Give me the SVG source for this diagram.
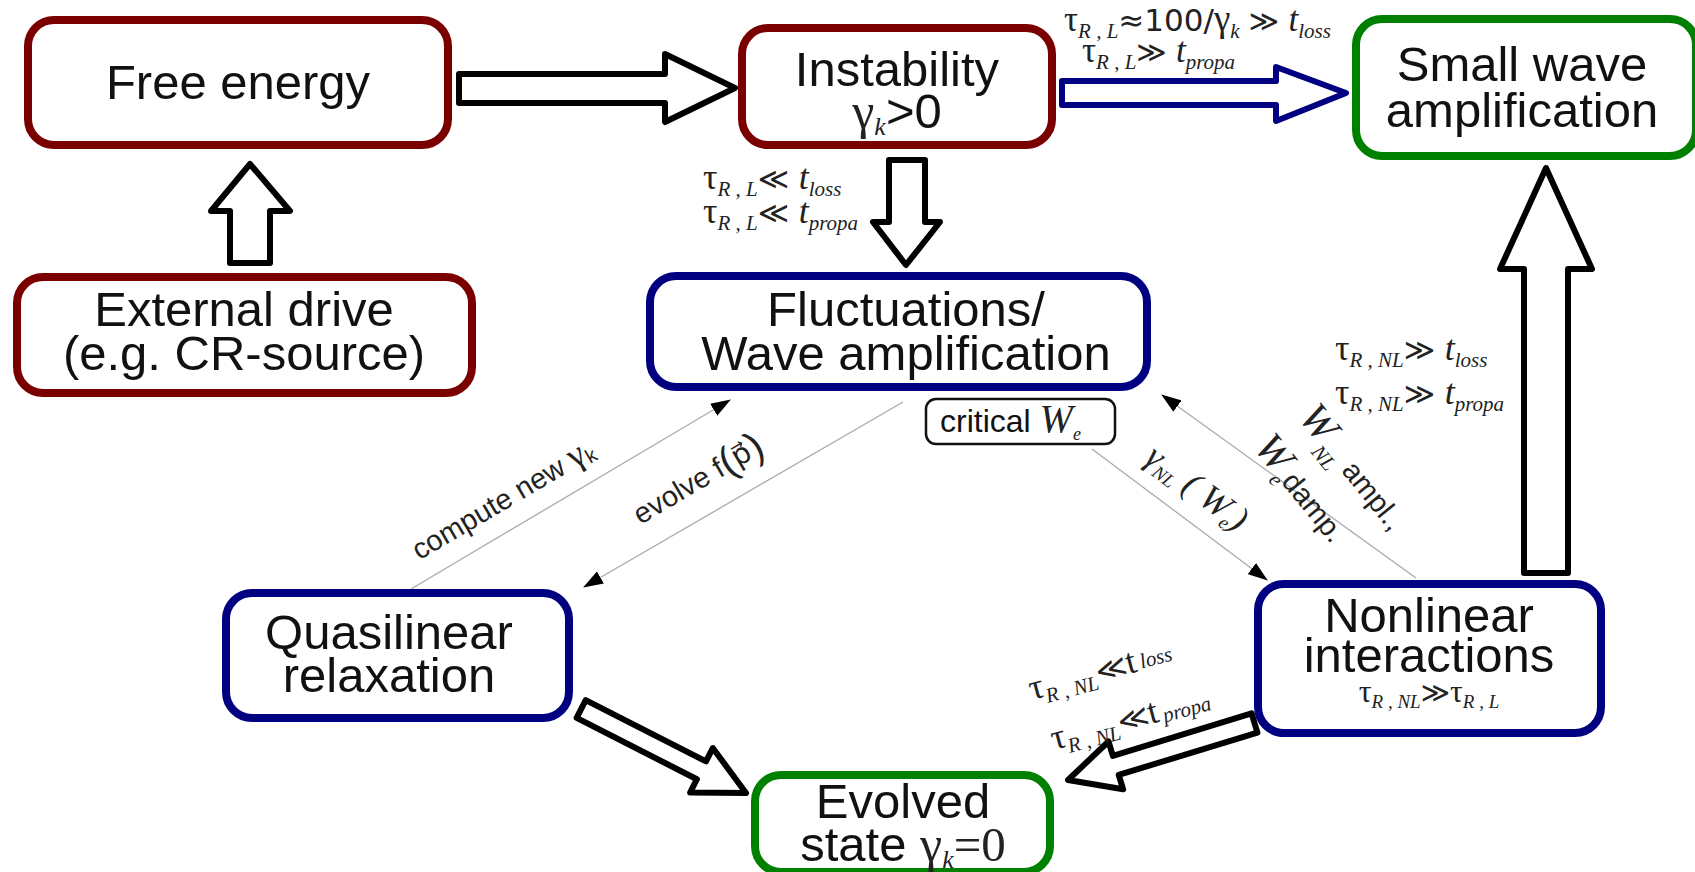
<svg xmlns="http://www.w3.org/2000/svg" width="1695" height="872" viewBox="0 0 1695 872">
<defs>
<style>
.box{fill:#fff;stroke-width:8}
.red{stroke:#7a0000}
.blue{stroke:#000080}
.green{stroke:#008000}
.t{font-family:"Liberation Sans",Arial,sans-serif;font-size:49px;fill:#111;text-anchor:middle}
.m{font-family:"Liberation Serif","DejaVu Serif",serif;fill:#222}
.i{font-style:italic}
.s{font-family:"DejaVu Sans",sans-serif}
.big{fill:#fff;stroke:#000;stroke-width:6;stroke-linejoin:round}
.thin{stroke:#aaa;stroke-width:1.3;fill:none;marker-end:url(#ah)}
.lab{font-family:"Liberation Sans",Arial,sans-serif;font-size:29px;fill:#222}
</style>
<marker id="ah" markerWidth="20" markerHeight="14" refX="19" refY="7" orient="auto" markerUnits="userSpaceOnUse">
<path d="M0,0 L20,7 L0,14 Z" fill="#000"/>
</marker>
</defs>

<g id="connectors">
<path class="big" d="M459,74 L665,74 L665,54 L735,88 L665,122 L665,103 L459,103 Z"/>
<path class="big" d="M230,263 L230,211 L211,211 L250,164 L290,211 L270,211 L270,263 Z"/>
<path class="big" d="M889,160 L925,160 L925,222 L940,222 L906,265 L873,222 L889,222 Z"/>
<path class="big" style="stroke:#000080" d="M1062,81 L1276,81 L1276,67 L1346,93 L1276,121 L1276,105 L1062,105 Z"/>
<path class="big" d="M1524,573 L1524,269 L1500,269 L1546,168 L1592,269 L1568,269 L1568,573 Z"/>
<path class="big" transform="translate(746,793) rotate(27)" d="M-185,-10 L-50,-10 L-50,-25 L0,0 L-50,25 L-50,10 L-185,10 Z"/>
<path class="big" transform="translate(1068,780) rotate(163)" d="M-195,-10 L-50,-10 L-50,-25 L0,0 L-50,25 L-50,10 L-195,10 Z"/>
<line class="thin" x1="411" y1="589" x2="730" y2="400"/>
<line class="thin" x1="903" y1="402" x2="584" y2="587"/>
<line class="thin" x1="1092" y1="449" x2="1267" y2="580"/>
<line class="thin" x1="1416" y1="578" x2="1162" y2="395"/>

<text class="m" x="1064" y="31" font-size="35">τ<tspan class="i" font-size="21" dy="7">R , L</tspan><tspan dy="-7" class="s" font-size="31">≈100/</tspan><tspan font-size="37">γ</tspan><tspan class="i" font-size="21" dy="7">k</tspan><tspan dy="-7" class="s" font-size="29"> ≫ </tspan><tspan class="i">t</tspan><tspan class="i" font-size="21" dy="7">loss</tspan></text>
<text class="m" x="1082" y="62" font-size="35">τ<tspan class="i" font-size="21" dy="7">R , L</tspan><tspan dy="-7" class="s" font-size="29">≫ </tspan><tspan class="i">t</tspan><tspan class="i" font-size="21" dy="7">propa</tspan></text>

<text class="m" x="703" y="189" font-size="36">τ<tspan class="i" font-size="21" dy="7">R , L</tspan><tspan dy="-7" class="s" font-size="30">≪ </tspan><tspan class="i">t</tspan><tspan class="i" font-size="21" dy="7">loss</tspan></text>
<text class="m" x="703" y="223" font-size="36">τ<tspan class="i" font-size="21" dy="7">R , L</tspan><tspan dy="-7" class="s" font-size="30">≪ </tspan><tspan class="i">t</tspan><tspan class="i" font-size="21" dy="7">propa</tspan></text>

<text class="m" x="1335" y="360" font-size="36">τ<tspan class="i" font-size="21" dy="7">R , NL</tspan><tspan dy="-7" class="s" font-size="30">≫ </tspan><tspan class="i">t</tspan><tspan class="i" font-size="21" dy="7">loss</tspan></text>
<text class="m" x="1335" y="404" font-size="36">τ<tspan class="i" font-size="21" dy="7">R , NL</tspan><tspan dy="-7" class="s" font-size="30">≫ </tspan><tspan class="i">t</tspan><tspan class="i" font-size="21" dy="7">propa</tspan></text>

<text class="m" transform="translate(1032,700) rotate(-15)" font-size="36">τ<tspan class="i" font-size="21" dy="7">R , NL</tspan><tspan dy="-7" class="s" font-size="30">≪</tspan><tspan>t</tspan><tspan class="i" font-size="21" dx="4" dy="-2">loss</tspan></text>
<text class="m" transform="translate(1054,750) rotate(-15)" font-size="36">τ<tspan class="i" font-size="21" dy="7">R , NL</tspan><tspan dy="-7" class="s" font-size="30">≪</tspan><tspan>t</tspan><tspan class="i" font-size="21" dx="4" dy="2">propa</tspan></text>

<text class="lab" transform="translate(508,508) rotate(-30.6)" text-anchor="middle">compute new <tspan class="m" font-size="36">γ</tspan><tspan font-size="20" dy="4">k</tspan></text>
<text class="lab" transform="translate(703,488) rotate(-30.6)" text-anchor="middle">evolve f<tspan font-size="40" dy="3">(</tspan><tspan class="s" dy="-3">p⃗</tspan><tspan font-size="40" dy="3">)</tspan></text>
<text class="m" transform="translate(1190,497) rotate(37)" text-anchor="middle" font-size="36"><tspan class="i">γ</tspan><tspan class="i" font-size="19" dy="6">NL</tspan><tspan dy="-6" class="i"> ( W</tspan><tspan class="i" font-size="19" dy="6">e</tspan><tspan dy="-6" class="i">)</tspan></text>
<text class="lab" font-size="33" transform="translate(1344,475) rotate(51)" text-anchor="middle"><tspan class="m i" font-size="42">W</tspan><tspan class="m i" font-size="21" dy="12">NL</tspan><tspan dy="-12"> ampl.,</tspan></text>
<text class="lab" font-size="33" transform="translate(1292,496) rotate(51)" text-anchor="middle"><tspan class="m i" font-size="42">W</tspan><tspan class="m i" font-size="21" dy="9">e</tspan><tspan dy="-9">damp.</tspan></text>
</g>

<g id="free-energy">
<rect class="box red" x="28" y="20" width="420" height="125" rx="26"/>
<text class="t" x="238" y="99">Free energy</text>
</g>
<g id="external-drive">
<rect class="box red" x="17" y="277" width="455" height="116" rx="26"/>
<text class="t" x="244" y="326">External drive</text>
<text class="t" x="244" y="370">(e.g. CR-source)</text>
</g>
<g id="instability">
<rect class="box red" x="742" y="28" width="310" height="117" rx="26"/>
<text class="t" x="897" y="86">Instability</text>
<text class="t" x="897" y="128"><tspan class="m" font-size="50">γ</tspan><tspan class="m i" font-size="26" dy="7">k</tspan><tspan dy="-7">&gt;0</tspan></text>
</g>
<g id="small-wave">
<rect class="box green" x="1356" y="19" width="340" height="137" rx="26"/>
<text class="t" x="1522" y="81">Small wave</text>
<text class="t" x="1522" y="127">amplification</text>
</g>
<g id="fluctuations">
<rect class="box blue" x="650" y="276" width="497" height="111" rx="26"/>
<text class="t" x="906" y="326">Fluctuations/</text>
<text class="t" x="906" y="370">Wave amplification</text>
</g>
<g id="critical">
<rect x="926" y="399" width="189" height="45" rx="10" fill="#fff" stroke="#111" stroke-width="2.5"/>
<text x="940" y="432" font-family="Liberation Sans,Arial,sans-serif" font-size="32" fill="#111">critical <tspan class="m i" font-size="40">W</tspan><tspan class="m i" font-size="18" dy="8">e</tspan></text>
</g>
<g id="quasilinear">
<rect class="box blue" x="226" y="593" width="343" height="125" rx="26"/>
<text class="t" x="389" y="649">Quasilinear</text>
<text class="t" x="389" y="692">relaxation</text>
</g>
<g id="nonlinear">
<rect class="box blue" x="1258" y="584" width="343" height="149" rx="26"/>
<text class="t" x="1429" y="632">Nonlinear</text>
<text class="t" x="1429" y="672">interactions</text>
<text class="m" x="1429" y="702" font-size="32" text-anchor="middle">τ<tspan class="i" font-size="19" dy="6">R , NL</tspan><tspan dy="-6" class="s" font-size="28">≫</tspan><tspan>τ</tspan><tspan class="i" font-size="19" dy="6">R , L</tspan></text>
</g>
<g id="evolved">
<rect class="box green" x="755" y="775" width="295" height="97" rx="26"/>
<text class="t" x="903" y="818">Evolved</text>
<text class="t" x="903" y="861">state <tspan class="m" font-size="50">γ</tspan><tspan class="m i" font-size="26" dy="7">k</tspan><tspan dy="-7" class="m">=0</tspan></text>
</g>
</svg>
